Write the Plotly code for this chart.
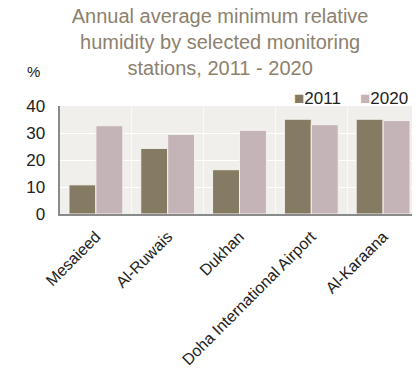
import plotly.graph_objects as go

stations = ["Mesaieed", "Al-Ruwais", "Dukhan", "Doha International Airport", "Al-Karaana"]
years = ["2011", "2020"]
hum_2011 = [10.8, 24.3, 16.4, 35.1, 35.1]
hum_2020 = [32.7, 29.5, 31.0, 33.1, 34.6]
colors = ["#857a62", "#c4b4b8"]

FONT = "Liberation Sans, Arial, sans-serif"

fig = go.Figure()
for name, vals, col in zip(years, [hum_2011, hum_2020], colors):
    fig.add_trace(go.Bar(x=stations, y=vals, name=name, showlegend=False,
                         marker=dict(color=col, line=dict(color="#f4f2ee", width=1))))

# the page body adds an 8px offset, so margins are shifted to compensate
fig.update_layout(
    width=420, height=381,
    margin=dict(l=52, r=9, t=98, b=175),
    paper_bgcolor="white",
    plot_bgcolor="#f0efeb",
    barmode="group", bargap=0.25, bargroupgap=0,
    font=dict(family=FONT, color="#222222"),
    title=dict(text="Annual average minimum relative<br>humidity by selected monitoring<br>stations, 2011 - 2020",
               x=0.505, xanchor="center", y=0.96, yanchor="top",
               font=dict(size=20, color="#8c816e", family=FONT)),
)
fig.update_xaxes(tickangle=-45, tickfont=dict(size=16), showline=True, linecolor="#8a8a8a",
                 linewidth=2, showgrid=True, gridcolor="#fbfaf8", gridwidth=1,
                 tickson="boundaries", ticks="", automargin=False, ticklabelstandoff=5)
fig.update_yaxes(range=[0, 40], dtick=10, tickfont=dict(size=17), showline=True,
                 linecolor="#8a8a8a", linewidth=2, gridcolor="#ffffff", gridwidth=1,
                 zeroline=False, ticks="", automargin=False, ticksuffix="  ")

# y-axis unit
fig.add_annotation(text="%", xref="paper", yref="paper", x=-0.075, y=1.315,
                   showarrow=False, xanchor="center", yanchor="middle",
                   font=dict(size=15, color="#222222", family=FONT))

# legend drawn as text: colored square followed by the year
for name, col, lx in zip(years, colors, [0.646, 0.829]):
    fig.add_annotation(text=f"<span style='color:{col}'>■</span>{name}",
                       xref="paper", yref="paper", x=lx, y=1.074,
                       showarrow=False, xanchor="left", yanchor="middle",
                       font=dict(size=17, color="#222222", family=FONT))

fig.write_html("out.html")
